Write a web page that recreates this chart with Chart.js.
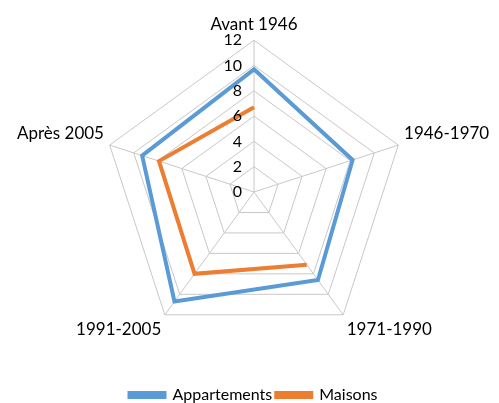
<!DOCTYPE html>
<html>
<head>
<meta charset="utf-8">
<script src="https://cdn.jsdelivr.net/npm/chart.js@4"></script>
<style>
  html, body { margin: 0; padding: 0; background: #fff; }
  #wrap { width: 499px; height: 403px; overflow: hidden; }
  #myChart { display: block; margin-top: -24px; }
</style>
</head>
<body>
<div id="wrap"><canvas id="myChart" width="499" height="427"></canvas></div>
<script>
// Chart data
const categories = ['Avant 1946', '1946-1970', '1971-1990', '1991-2005', 'Après 2005'];
const appartements = [9.7, 8.2, 8.6, 10.7, 9.3];
const maisons = [6.7, null, 7.1, 8.0, 7.9];
const tickValues = [0, 2, 4, 6, 8, 10, 12];

// Tick labels drawn left of the vertical axis, like Excel does
const tickLabelPlugin = {
    id: 'tickLabels',
    afterDatasetsDraw(chart) {
        const scale = chart.scales.r;
        const ctx = chart.ctx;
        ctx.save();
        ctx.font = '16px Lato, sans-serif';
        ctx.fillStyle = '#000';
        ctx.textAlign = 'right';
        ctx.textBaseline = 'middle';
        tickValues.forEach(v => {
            const p = scale.getPointPositionForValue(0, v);
            ctx.fillText(String(v), p.x - 12, p.y);
        });
        ctx.restore();
    }
};

function createChart() {
    const ctx = document.getElementById('myChart').getContext('2d');
    new Chart(ctx, {
        type: 'radar',
        data: {
            labels: categories,
            datasets: [{
                label: 'Appartements',
                data: appartements,
                borderColor: '#5b9bd5',
                backgroundColor: '#5b9bd5',
                fill: false,
                borderWidth: 4,
                pointRadius: 0,
                tension: 0
            }, {
                label: 'Maisons',
                data: maisons,
                borderColor: '#ed7d31',
                backgroundColor: '#ed7d31',
                fill: false,
                borderWidth: 4,
                pointRadius: 0,
                spanGaps: false,
                tension: 0
            }]
        },
        options: {
            responsive: false,
            animation: false,
            layout: { padding: { top: 0, left: 16, right: 8, bottom: -10 } },
            scales: {
                r: {
                    min: 0,
                    max: 12,
                    ticks: { stepSize: 2, display: false },
                    grid: { color: '#c8c8c8', lineWidth: 1 },
                    angleLines: { color: '#c8c8c8', lineWidth: 1 },
                    pointLabels: {
                        color: '#000',
                        font: { family: 'Lato, sans-serif', size: 17 },
                        padding: 6
                    }
                }
            },
            plugins: {
                legend: {
                    position: 'bottom',
                    labels: {
                        color: '#000',
                        font: { family: 'Lato, sans-serif', size: 16 },
                        boxWidth: 35,
                        boxHeight: 4,
                        padding: 4
                    }
                },
                tooltip: { enabled: false }
            }
        },
        plugins: [tickLabelPlugin]
    });
}

createChart();
</script>
</body>
</html>
